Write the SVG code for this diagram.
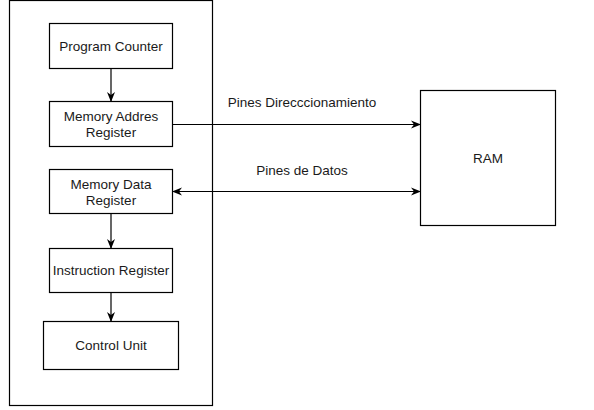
<svg xmlns="http://www.w3.org/2000/svg" width="594" height="410" viewBox="0 0 594 410">
<style>
.box{fill:#fff;stroke:#000;stroke-width:1.2}
.t{font-family:"Liberation Sans",Arial,sans-serif;font-size:13.5px;fill:#1a1a1a;text-anchor:middle}
.c{fill:none;stroke:#000;stroke-width:1.2}
</style>
<defs>
<marker id="ah" viewBox="0 0 10 10" refX="9" refY="5" markerWidth="10" markerHeight="10" markerUnits="userSpaceOnUse" orient="auto-start-reverse">
<path d="M0,1 L10,5 L0,9 L3,5 Z" fill="#000"/>
</marker>
</defs>
<rect width="594" height="410" fill="#fff"/>
<g id="cpu"><rect class="box" x="9.5" y="0.5" width="203" height="405"/></g>
<g id="pc"><rect class="box" x="49.5" y="23.5" width="123" height="45"/><text class="t" x="111" y="51">Program Counter</text></g>
<g id="mar"><rect class="box" x="49.5" y="101.5" width="123" height="45"/><text class="t" x="111" y="121">Memory Addres</text><text class="t" x="111" y="137">Register</text></g>
<g id="mdr"><rect class="box" x="49.5" y="169.5" width="123" height="44"/><text class="t" x="111" y="189">Memory Data</text><text class="t" x="111" y="205">Register</text></g>
<g id="ir"><rect class="box" x="49.5" y="248.5" width="123" height="44"/><text class="t" x="111" y="275">Instruction Register</text></g>
<g id="cu"><rect class="box" x="43.5" y="321.5" width="135" height="48"/><text class="t" x="111" y="350">Control Unit</text></g>
<g id="ram"><rect class="box" x="420.5" y="90.5" width="135" height="135"/><text class="t" x="488" y="163">RAM</text></g>
<g id="connectors">
<line class="c" x1="111" y1="69" x2="111" y2="101" marker-end="url(#ah)"/>
<line class="c" x1="111" y1="214" x2="111" y2="248" marker-end="url(#ah)"/>
<line class="c" x1="111" y1="293" x2="111" y2="321" marker-end="url(#ah)"/>
<line class="c" x1="173" y1="124.5" x2="420" y2="124.5" marker-end="url(#ah)"/>
<line class="c" x1="173" y1="191.5" x2="420" y2="191.5" marker-start="url(#ah)" marker-end="url(#ah)"/>
<text class="t" x="302" y="107">Pines Direcccionamiento</text>
<text class="t" x="302" y="175">Pines de Datos</text>
</g>
</svg>
